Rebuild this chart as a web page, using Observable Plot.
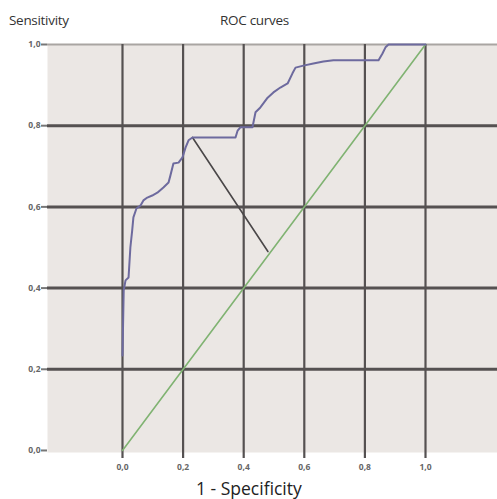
<!DOCTYPE html>
<html><head><meta charset="utf-8">
<script src="https://cdn.jsdelivr.net/npm/d3@7"></script>
<script src="https://cdn.jsdelivr.net/npm/@observablehq/plot@0.6"></script>
<style>
body{margin:0;background:#fff;}
#wrap{position:relative;width:497px;height:499px;overflow:hidden;}
#chart{position:absolute;left:0;top:0;}
.t{position:absolute;font-family:"Open Sans",sans-serif;color:#333;white-space:nowrap;z-index:2;}
</style></head><body>
<div id="wrap">
<div id="chart"></div>
<div class="t" style="left:9px;top:11px;font-size:13.5px;letter-spacing:-0.3px;">Sensitivity</div>
<div class="t" style="left:220px;top:11px;font-size:13.5px;letter-spacing:-0.3px;">ROC curves</div>
<div class="t" style="left:196px;top:476px;font-size:17.5px;color:#222;">1 - Specificity</div>
</div>
<script>
// ROC curve points (1 - specificity, sensitivity)
const fpr = [0, 0.004, 0.010, 0.020, 0.026, 0.032, 0.036, 0.046, 0.059, 0.069, 0.082, 0.098, 0.115, 0.135, 0.152, 0.158, 0.168, 0.185, 0.198, 0.208, 0.218, 0.231, 0.373, 0.380, 0.389, 0.429, 0.439, 0.455, 0.479, 0.498, 0.521, 0.545, 0.561, 0.571, 0.597, 0.630, 0.663, 0.696, 0.845, 0.858, 0.868, 0.878, 1.0];
const tpr = [0.234, 0.394, 0.419, 0.426, 0.500, 0.542, 0.574, 0.596, 0.603, 0.616, 0.623, 0.628, 0.635, 0.648, 0.660, 0.677, 0.707, 0.709, 0.722, 0.746, 0.764, 0.771, 0.771, 0.788, 0.796, 0.796, 0.833, 0.845, 0.869, 0.882, 0.894, 0.904, 0.929, 0.943, 0.948, 0.953, 0.958, 0.961, 0.961, 0.978, 0.993, 1.0, 1.0];
// reference diagonal
const diagX = [0, 1];
const diagY = [0, 1];
// optimal cut-off segment
const cutX = [0.231, 0.48];
const cutY = [0.771, 0.49];
// ticks
const xTicks = [0, 0.2, 0.4, 0.6, 0.8, 1.0];
const yTicks = [0, 0.2, 0.4, 0.6, 0.8, 1.0];
const hGrid = [0.2, 0.4, 0.6, 0.8];

const roc = fpr.map((x, i) => ({x, y: tpr[i]}));
const diag = diagX.map((x, i) => ({x, y: diagY[i]}));
const cut = cutX.map((x, i) => ({x, y: cutY[i]}));
const fmt = d => d.toFixed(1).replace(".", ",");

const chart = Plot.plot({
  width: 497, height: 499,
  marginLeft: 47, marginRight: 0, marginTop: 44, marginBottom: 47,
  x: {domain: [-0.2475, 1.2376]},
  y: {domain: [-0.005, 1]},
  style: {background: "transparent", overflow: "visible", fontFamily: "Open Sans, sans-serif"},
  marks: [
    Plot.frame({fill: "#ebe7e4", stroke: "none"}),
    Plot.ruleY([1], {stroke: "#a9a5a2", strokeWidth: 2}),
    Plot.ruleY(hGrid, {stroke: "#555151", strokeWidth: 3}),
    Plot.ruleX(xTicks, {y1: -0.005, y2: 1, stroke: "#555151", strokeWidth: 2.2}),
    Plot.line(diag, {x: "x", y: "y", stroke: "#80b372", strokeWidth: 1.6}),
    Plot.line(cut, {x: "x", y: "y", stroke: "#4a4748", strokeWidth: 1.6}),
    Plot.line(roc, {x: "x", y: "y", stroke: "#6d6a9e", strokeWidth: 2}),
    Plot.axisY(yTicks, {tickFormat: fmt, tickSize: 6, tickPadding: 1, fontSize: 8.5, fontWeight: "bold", fill: "#666", stroke: "#777", strokeWidth: 2, label: null}),
    Plot.axisX(xTicks, {tickFormat: fmt, tickSize: 6, tickPadding: 5, fontSize: 8.5, fontWeight: "bold", fill: "#666", stroke: "#555151", strokeWidth: 2.2, label: null})
  ]
});
document.getElementById("chart").appendChild(chart);
</script>
</body></html>
